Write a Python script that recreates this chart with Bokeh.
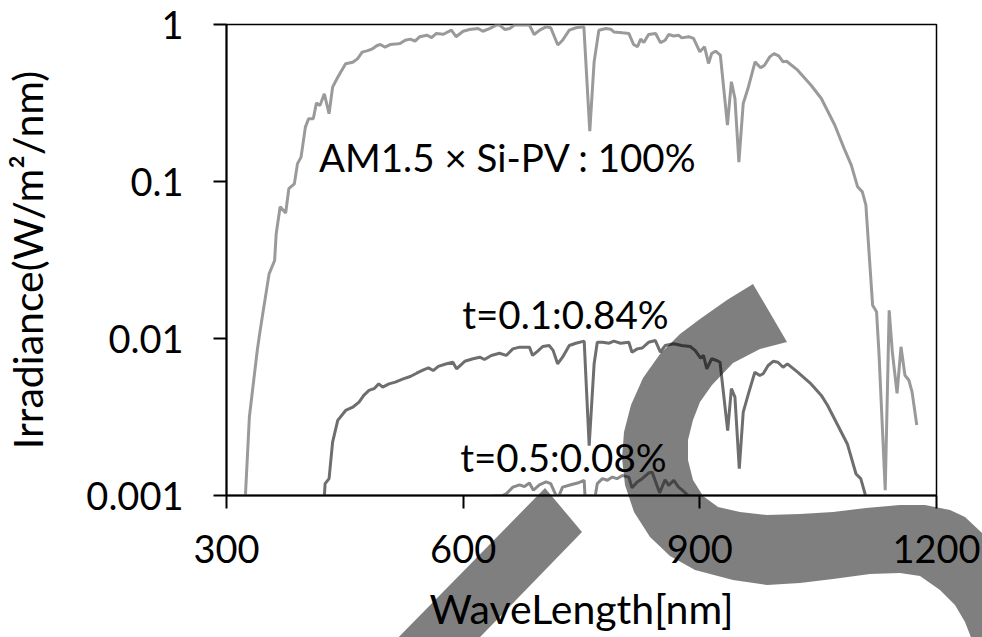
from bokeh.plotting import figure
from bokeh.models import FixedTicker, CustomJSTickFormatter, Range1d, GridBox, Div
from bokeh.core.properties import value
from bokeh.embed import file_html
from bokeh.resources import INLINE

# ---------------- data ----------------
AM_WL = [324, 329, 339, 342, 346, 354, 361, 363, 368, 375, 379, 386, 390, 394.5, 400, 404,
         410, 414, 418.5, 424, 430, 434.5, 441, 451, 460, 466, 472, 479, 485, 491, 495, 501,
         508, 514, 520, 526.5, 533, 539, 545, 554, 560, 566, 575, 585, 591, 600, 608, 619,
         625, 634, 642, 646, 653, 659, 665, 684, 690, 697, 705, 711, 720, 726, 734.5, 743,
         753, 760.5, 766, 772, 781, 787, 791, 802, 810, 816, 821, 825, 829, 835, 844, 850,
         856, 860.5, 867, 873, 877, 886, 892, 900, 906, 911, 915, 920, 926, 935, 940, 944.5,
         949.5, 955, 961, 970, 977, 982, 988.6, 994, 1000, 1005.5, 1010, 1024, 1041, 1054,
         1071, 1083, 1092, 1100, 1106, 1110.5, 1115, 1119, 1124, 1127, 1135, 1140, 1144,
         1150, 1155, 1160, 1165, 1169, 1175]
AM_IRR = [0.001, 0.00316, 0.0084, 0.0107, 0.0144, 0.0258, 0.0314, 0.0465, 0.069, 0.063, 0.090,
          0.0966, 0.130, 0.143, 0.222, 0.251, 0.251, 0.316, 0.305, 0.362, 0.270, 0.399, 0.461,
          0.562, 0.575, 0.604, 0.667, 0.682, 0.700, 0.735, 0.746, 0.718, 0.746, 0.750, 0.757,
          0.794, 0.807, 0.783, 0.836, 0.855, 0.826, 0.877, 0.867, 0.920, 0.836, 0.906, 0.929,
          0.944, 0.906, 0.944, 0.991, 0.991, 0.929, 0.944, 0.991, 0.991, 0.863, 0.920, 0.966,
          0.953, 0.740, 0.794, 0.920, 0.953, 0.966, 0.209, 0.578, 0.920, 0.944, 0.933, 0.897,
          0.885, 0.877, 0.746, 0.721, 0.807, 0.767, 0.863, 0.877, 0.767, 0.794, 0.863, 0.845,
          0.855, 0.822, 0.836, 0.815, 0.670, 0.721, 0.565, 0.653, 0.676, 0.638, 0.229, 0.432,
          0.338, 0.133, 0.314, 0.391, 0.578, 0.530, 0.550, 0.622, 0.653, 0.631, 0.578, 0.583,
          0.512, 0.410, 0.338, 0.229, 0.162, 0.127, 0.0925, 0.0859, 0.0706, 0.0324, 0.0163,
          0.0148, 0.00822, 0.00108, 0.0151, 0.00822, 0.00447, 0.00885, 0.00583, 0.00542,
          0.00457, 0.00281]

T01_WL = [424, 425, 430, 434.5, 441, 451, 460, 468, 474, 480.6, 487, 493, 498, 506, 514, 524,
          533, 541, 549.6, 556, 562, 568.5, 579, 587, 591.6, 602, 612.6, 621, 627, 635.7, 646,
          654.6, 663, 671.5, 684, 688, 694.5, 700.8, 709, 714, 719.7, 726, 734.5, 742.8, 753.4,
          759.7, 766, 770, 776.5, 785, 791, 799.5, 810, 814, 820.6, 827, 835, 843.6, 850, 856,
          866.8, 877, 887.8, 894, 901, 904.6, 908.8, 915, 921.4, 925.6, 935.3, 940, 944.5, 950,
          955, 961, 969.7, 976, 980.3, 986.6, 993, 999, 1005.5, 1011, 1024, 1041, 1054, 1062,
          1075, 1087, 1098, 1104, 1110.5]
T01_IRR = [0.00098, 0.00119, 0.00128, 0.00219, 0.00301, 0.00348, 0.00365, 0.00393, 0.00434,
           0.00467, 0.00479, 0.00514, 0.0049, 0.00514, 0.00527, 0.00553, 0.00573, 0.00601,
           0.00631, 0.0065, 0.00625, 0.00664, 0.0069, 0.00706, 0.00641, 0.00716, 0.00743, 0.0076,
           0.00735, 0.0078, 0.00805, 0.0078, 0.00859, 0.00881, 0.00881, 0.0078, 0.0083, 0.00889,
           0.00902, 0.0084, 0.0069, 0.0076, 0.00902, 0.00933, 0.00962, 0.00208, 0.0069, 0.00946,
           0.00946, 0.00933, 0.00962, 0.00933, 0.00946, 0.00818, 0.00859, 0.0087, 0.00946,
           0.0097, 0.00818, 0.00902, 0.00925, 0.00902, 0.00889, 0.0084, 0.0075, 0.0078, 0.00641,
           0.00743, 0.00724, 0.00706, 0.00259, 0.00479, 0.00423, 0.00148, 0.0034, 0.00434,
           0.0061, 0.00581, 0.00596, 0.00673, 0.00716, 0.00706, 0.00656, 0.0069, 0.0061,
           0.00514, 0.00434, 0.00374, 0.00279, 0.00213, 0.00137, 0.00128, 0.00098]

T05_WL = [636, 650, 655, 663, 671.5, 677.7, 684, 689, 696.6, 705, 711, 719.7, 726, 736.5, 745,
          753.4, 759.7, 766, 770, 776.5, 782.8, 789, 795, 801.7, 810, 814, 820.6, 827, 835,
          839.5, 849, 856, 860.5, 867, 873, 878, 886, 890]
T05_IRR = [0.00099, 0.00100, 0.00103, 0.00113, 0.00117, 0.00114, 0.0012, 0.00108, 0.00117,
           0.00122, 0.00119, 0.00095, 0.00113, 0.00117, 0.0012, 0.00125, 0.0003, 0.0009,
           0.00119, 0.00128, 0.00125, 0.00131, 0.00128, 0.00134, 0.00131, 0.00112, 0.00122,
           0.00128, 0.00139, 0.00141, 0.00104, 0.00126, 0.00116, 0.00125, 0.00113, 0.00108,
           0.00099, 0.0009]

X_TICKS = [300, 600, 900, 1200]
Y_TICKS = [0.001, 0.01, 0.1, 1]
LABELS = ["AM1.5 × Si-PV : 100%", "t=0.1:0.84%", "t=0.5:0.08%"]

# ---------------- layout helpers ----------------
W, H = 982, 637
FL, FR, FT, FB = 222, 936, 24, 495   # frame edges in pixels
X0, X1 = 300, 1200
LY0, LY1 = -3, 0


def px2x(px):
    return X0 + (px - FL) * (X1 - X0) / (FR - FL)


def py2y(py):
    return 10 ** (LY0 + (FB - py) * (LY1 - LY0) / (FB - FT))


p = figure(width=W, height=H, x_range=Range1d(X0, X1), y_range=Range1d(10 ** LY0, 10 ** LY1),
           y_axis_type="log", output_backend="svg", toolbar_location=None,
           min_border_left=FL, min_border_right=W - FR, min_border_top=FT,
           min_border_bottom=H - FB)
p.background_fill_color = "white"
p.border_fill_color = "white"
p.outline_line_color = "black"
p.outline_line_width = 1.5
p.xgrid.visible = False
p.ygrid.visible = False

FONT = "Lato"
for ax in (p.xaxis[0], p.yaxis[0]):
    ax.axis_line_color = "black"
    ax.axis_line_width = 2
    ax.major_tick_line_color = "black"
    ax.major_tick_line_width = 2
    ax.major_tick_out = 13
    ax.major_tick_in = 0
    ax.minor_tick_out = 0
    ax.minor_tick_in = 0
    ax.minor_tick_line_color = None
    ax.major_label_text_font = FONT
    ax.major_label_text_font_size = "38px"
    ax.major_label_text_color = "black"
    ax.axis_label_text_font = FONT
    ax.axis_label_text_font_size = "41px"
    ax.axis_label_text_font_style = "normal"
    ax.axis_label_text_color = "black"

p.xaxis.ticker = FixedTicker(ticks=X_TICKS, minor_ticks=[])
p.yaxis.ticker = FixedTicker(ticks=Y_TICKS, minor_ticks=[])
p.yaxis.formatter = CustomJSTickFormatter(code="return String(tick);")
p.xaxis.major_label_standoff = 26
p.yaxis.major_label_standoff = 30
p.xaxis.axis_label = "WaveLength[nm]"
p.yaxis.axis_label = "Irradiance(W/m²/nm)"
p.xaxis.axis_label_standoff = 18
p.yaxis.axis_label_standoff = 31

p.line(AM_WL, AM_IRR, line_color="#9a9a9a", line_width=3)
p.line(T05_WL, T05_IRR, line_color="#8a8a8a", line_width=3)
p.line(T01_WL, T01_IRR, line_color="#6e6e6e", line_width=3)

# text annotations (left edge / baseline positions in pixels converted to data)
lab_px = [(315, 156), (459, 313), (457, 456)]
p.text(x=[px2x(a) for a, b in lab_px], y=[py2y(b) for a, b in lab_px], text=LABELS,
       text_font=value(FONT), text_font_size=value("38.5px"), text_color="black",
       text_align="left", text_baseline="alphabetic")

# ---------------- grey "S" overlay (decoration drawn on top of the whole chart) ----------------
s_main = [(753, 284), (727, 300), (700, 319), (680, 334), (660, 354), (643, 378), (631, 405),
          (624, 432), (622, 458), (625, 485), (634, 512), (650, 537), (670, 556), (695, 570),
          (733, 580), (767, 585), (800, 583), (833, 579), (870, 574), (900, 573), (920, 576),
          (940, 590), (955, 605), (965, 622), (972, 640), (985, 700), (1040, 700), (1020, 600),
          (1000, 555), (982, 533), (965, 517), (950, 510), (925, 505), (900, 505), (866, 508),
          (833, 512), (800, 514), (767, 515), (740, 512), (718, 507), (703, 496), (693, 480),
          (688, 460), (688, 440), (693, 420), (700, 402), (712, 385), (733, 363), (760, 349),
          (787, 342)]
s_diag = [(545, 488), (582, 532), (419, 700), (337, 700)]


def svg_path(pts):
    return "M " + " L ".join(f"{a},{b}" for a, b in pts) + " Z"


svg = (f'<svg xmlns="http://www.w3.org/2000/svg" width="{W}" height="{H}" '
       f'viewBox="0 0 {W} {H}" style="display:block">'
       + "".join(f'<path d="{svg_path(s)}" fill="black" fill-opacity="0.5"/>'
                 for s in (s_main, s_diag))
       + "</svg>")
overlay = Div(text=svg, width=W, height=H,
              styles={"margin": "0", "padding": "0", "pointer-events": "none"})

page = GridBox(children=[(p, 0, 0), (overlay, 0, 0)])
open("out.html", "w").write(file_html(page, INLINE))
